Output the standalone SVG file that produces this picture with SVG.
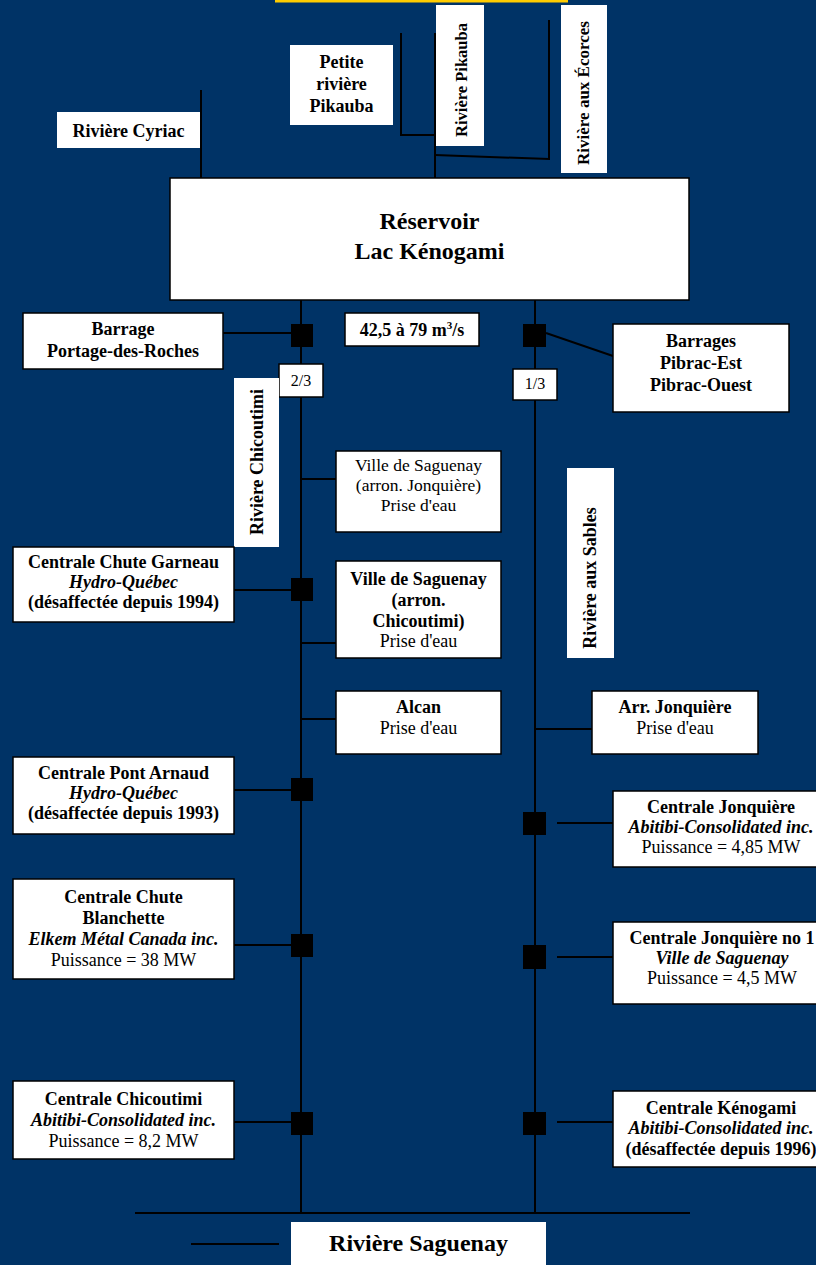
<svg xmlns="http://www.w3.org/2000/svg" width="816" height="1265" viewBox="0 0 816 1265">
<style>
text{font-family:"Liberation Serif","Times New Roman",serif;font-size:18px;text-anchor:middle;fill:#000}
.b{font-weight:bold}
.i{font-style:italic}
.bi{font-weight:bold;font-style:italic}
.box{fill:#fff;stroke:#000;stroke-width:1.5}
.plain{fill:#fff;stroke:none}
.ln{stroke:#000;stroke-width:2;fill:none}
.sq{fill:#000}
</style>
<rect x="0" y="0" width="816" height="1265" fill="#003366"/>
<rect x="275" y="0" width="293" height="2.5" fill="#ffcc00"/>

<g id="connectors">
<line class="ln" x1="201" y1="90" x2="201" y2="178"/>
<polyline class="ln" points="401,33 401,135 435,135"/>
<line class="ln" x1="435" y1="33" x2="435" y2="178"/>
<polyline class="ln" points="549,20 549,159 435,155"/>
<line class="ln" x1="301" y1="300" x2="301" y2="1213"/>
<line class="ln" x1="535" y1="300" x2="535" y2="1213"/>
<line class="ln" x1="223" y1="333" x2="291" y2="333"/>
<line class="ln" x1="546" y1="333" x2="613" y2="356"/>
<line class="ln" x1="301" y1="479" x2="336" y2="479"/>
<line class="ln" x1="234" y1="590" x2="291" y2="590"/>
<line class="ln" x1="301" y1="643" x2="336" y2="643"/>
<line class="ln" x1="301" y1="719" x2="336" y2="719"/>
<line class="ln" x1="535" y1="729" x2="592" y2="729"/>
<line class="ln" x1="234" y1="790" x2="291" y2="790"/>
<line class="ln" x1="557" y1="823" x2="613" y2="823"/>
<line class="ln" x1="234" y1="945" x2="291" y2="945"/>
<line class="ln" x1="557" y1="957" x2="613" y2="957"/>
<line class="ln" x1="234" y1="1122" x2="291" y2="1122"/>
<line class="ln" x1="557" y1="1122" x2="613" y2="1122"/>
<line class="ln" x1="135" y1="1213" x2="690" y2="1213"/>
<line class="ln" x1="191" y1="1244" x2="279" y2="1244"/>
<rect class="sq" x="291" y="324" width="22" height="23"/>
<rect class="sq" x="523" y="324" width="23" height="23"/>
<rect class="sq" x="291" y="578" width="22" height="23"/>
<rect class="sq" x="291" y="778" width="22" height="23"/>
<rect class="sq" x="523" y="812" width="23" height="23"/>
<rect class="sq" x="291" y="934" width="22" height="23"/>
<rect class="sq" x="523" y="945" width="23" height="24"/>
<rect class="sq" x="291" y="1112" width="22" height="23"/>
<rect class="sq" x="523" y="1112" width="23" height="23"/>
</g>

<g id="cyriac">
<rect class="plain" x="57" y="112" width="143" height="36"/>
<text class="b" x="128.5" y="137">Rivière Cyriac</text>
</g>

<g id="petite-pikauba">
<rect class="plain" x="290" y="45" width="103" height="80"/>
<text class="b" x="341.5" y="68">Petite</text>
<text class="b" x="341.5" y="90">rivière</text>
<text class="b" x="341.5" y="112">Pikauba</text>
</g>

<g id="pikauba">
<rect class="plain" x="436" y="5" width="48" height="141"/>
<text class="b" style="font-size:16.5px" transform="translate(467,80) rotate(-90)">Rivière Pikauba</text>
</g>

<g id="ecorces">
<rect class="plain" x="561" y="5" width="46" height="168"/>
<text class="b" style="font-size:17px" transform="translate(589,93) rotate(-90)">Rivière aux Écorces</text>
</g>

<g id="reservoir">
<rect class="box" x="170" y="178" width="519" height="122"/>
<text class="b" style="font-size:24px" x="429.5" y="229">Réservoir</text>
<text class="b" style="font-size:24px" x="429.5" y="259">Lac Kénogami</text>
</g>

<g id="barrage-portage">
<rect class="box" x="23" y="313" width="200" height="56"/>
<text class="b" x="123" y="335">Barrage</text>
<text class="b" x="123" y="357">Portage-des-Roches</text>
</g>

<g id="debit">
<rect class="box" x="345" y="313" width="134" height="33"/>
<text class="b" x="412" y="336">42,5 à 79 m<tspan style="font-size:11px" dy="-7">3</tspan><tspan dy="7">/s</tspan></text>
</g>

<g id="barrages-pibrac">
<rect class="box" x="613" y="324" width="176" height="88"/>
<text class="b" x="701" y="347">Barrages</text>
<text class="b" x="701" y="369">Pibrac-Est</text>
<text class="b" x="701" y="391">Pibrac-Ouest</text>
</g>

<g id="deux-tiers">
<rect class="box" x="279" y="364" width="44" height="33"/>
<text style="font-size:16px" x="301" y="386">2/3</text>
</g>

<g id="un-tiers">
<rect class="box" x="513" y="369" width="44" height="31"/>
<text style="font-size:16px" x="535" y="389">1/3</text>
</g>

<g id="riviere-chicoutimi">
<rect class="plain" x="234" y="378" width="45" height="169"/>
<text class="b" transform="translate(263,462) rotate(-90)">Rivière Chicoutimi</text>
</g>

<g id="ville-jonquiere">
<rect class="box" x="336" y="451" width="165" height="81"/>
<text style="font-size:17.5px" x="418.5" y="471">Ville de Saguenay</text>
<text style="font-size:17.5px" x="418.5" y="491">(arron. Jonquière)</text>
<text style="font-size:17.5px" x="418.5" y="511">Prise d'eau</text>
</g>

<g id="riviere-sables">
<rect class="plain" x="567" y="468" width="47" height="190"/>
<text class="b" transform="translate(596,578) rotate(-90)">Rivière aux Sables</text>
</g>

<g id="chute-garneau">
<rect class="box" x="13" y="547" width="221" height="75"/>
<text class="b" x="123.5" y="568">Centrale Chute Garneau</text>
<text class="bi" x="123.5" y="588">Hydro-Québec</text>
<text class="b" x="123.5" y="608">(désaffectée depuis 1994)</text>
</g>

<g id="ville-chicoutimi">
<rect class="box" x="336" y="561" width="165" height="97"/>
<text class="b" x="418.5" y="585">Ville de Saguenay</text>
<text class="b" x="418.5" y="606">(arron.</text>
<text class="b" x="418.5" y="627">Chicoutimi)</text>
<text x="418.5" y="647">Prise d'eau</text>
</g>

<g id="alcan">
<rect class="box" x="336" y="691" width="165" height="63"/>
<text class="b" x="418.5" y="713">Alcan</text>
<text x="418.5" y="734">Prise d'eau</text>
</g>

<g id="arr-jonquiere">
<rect class="box" x="592" y="691" width="166" height="63"/>
<text class="b" x="675" y="713">Arr. Jonquière</text>
<text x="675" y="734">Prise d'eau</text>
</g>

<g id="pont-arnaud">
<rect class="box" x="13" y="757" width="221" height="77"/>
<text class="b" x="123.5" y="779">Centrale Pont Arnaud</text>
<text class="bi" x="123.5" y="799">Hydro-Québec</text>
<text class="b" x="123.5" y="819">(désaffectée depuis 1993)</text>
</g>

<g id="centrale-jonquiere">
<rect class="box" x="613" y="791" width="215" height="76"/>
<text class="b" x="721" y="813">Centrale Jonquière</text>
<text class="bi" x="721" y="833">Abitibi-Consolidated inc.</text>
<text x="721" y="853">Puissance = 4,85 MW</text>
</g>

<g id="chute-blanchette">
<rect class="box" x="13" y="879" width="221" height="100"/>
<text class="b" x="123.5" y="903">Centrale Chute</text>
<text class="b" x="123.5" y="924">Blanchette</text>
<text class="bi" x="123.5" y="945">Elkem Métal Canada inc.</text>
<text x="123.5" y="966">Puissance = 38 MW</text>
</g>

<g id="jonquiere-no1">
<rect class="box" x="613" y="922" width="215" height="82"/>
<text class="b" x="722" y="944">Centrale Jonquière no 1</text>
<text class="bi" x="722" y="964">Ville de Saguenay</text>
<text x="722" y="984">Puissance = 4,5 MW</text>
</g>

<g id="centrale-chicoutimi">
<rect class="box" x="13" y="1081" width="221" height="78"/>
<text class="b" x="123.5" y="1105">Centrale Chicoutimi</text>
<text class="bi" x="123.5" y="1126">Abitibi-Consolidated inc.</text>
<text x="123.5" y="1147">Puissance = 8,2 MW</text>
</g>

<g id="centrale-kenogami">
<rect class="box" x="613" y="1091" width="215" height="76"/>
<text class="b" x="721" y="1114">Centrale Kénogami</text>
<text class="bi" x="721" y="1134">Abitibi-Consolidated inc.</text>
<text class="b" x="721" y="1155">(désaffectée depuis 1996)</text>
</g>

<g id="saguenay">
<rect class="plain" x="291" y="1222" width="255" height="50"/>
<text class="b" style="font-size:24px" x="418.5" y="1251">Rivière Saguenay</text>
</g>
</svg>
